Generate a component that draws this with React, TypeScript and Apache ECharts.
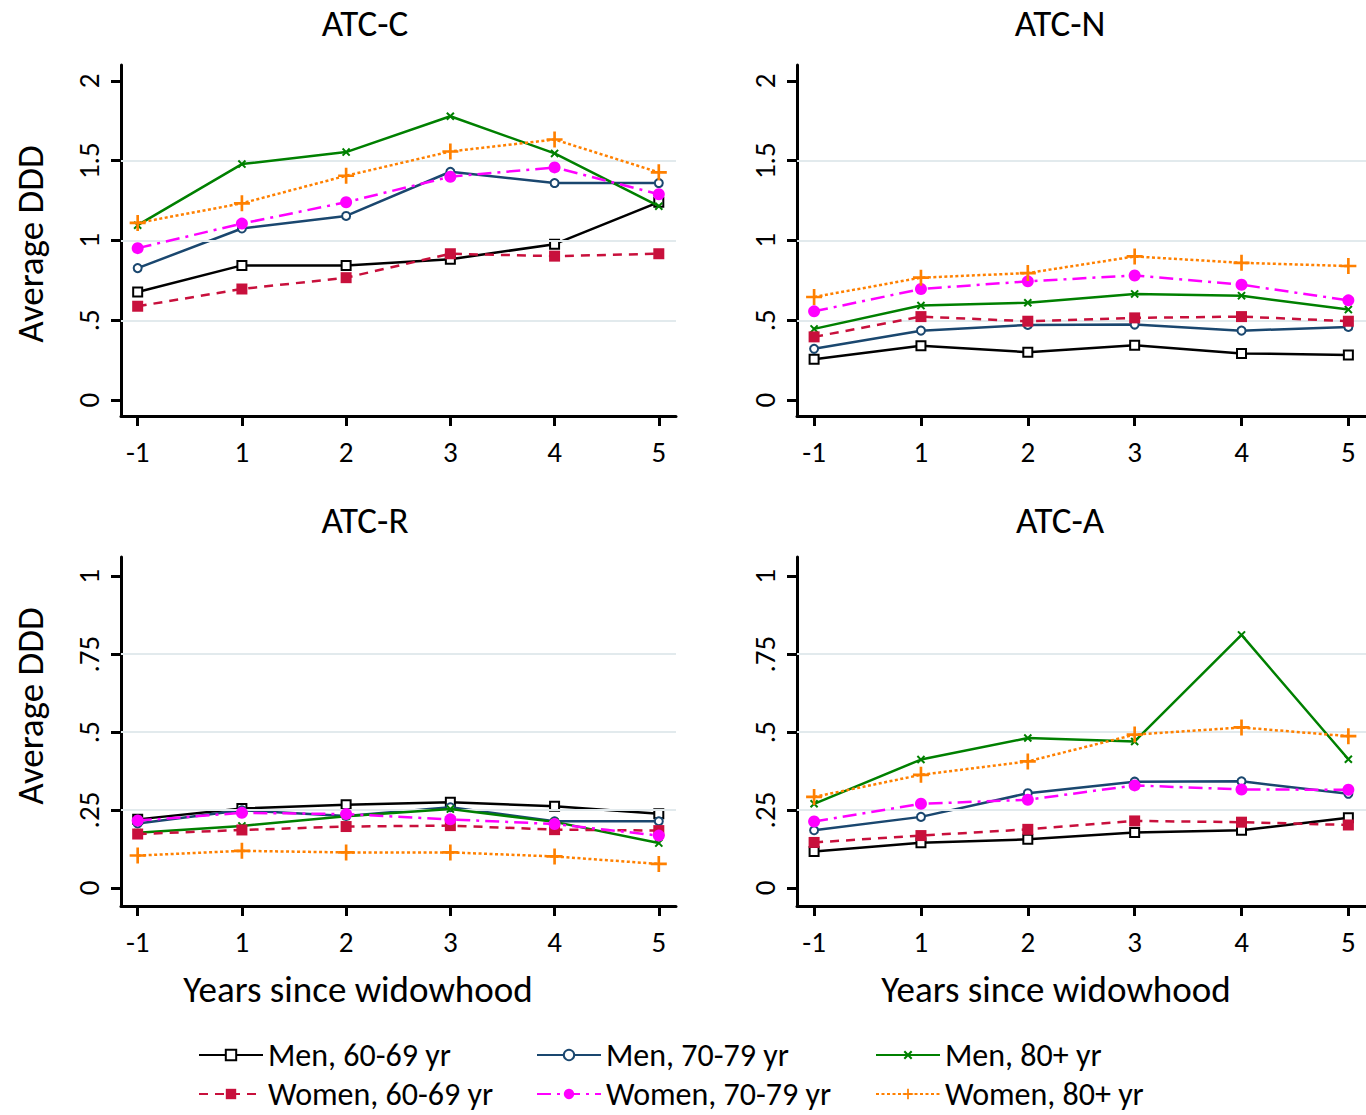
import React, { useEffect, useRef } from 'react';
import * as echarts from 'echarts';

const categories = ['-1', '1', '2', '3', '4', '5'];
const seriesNames = ['Men, 60-69 yr', 'Men, 70-79 yr', 'Men, 80+ yr', 'Women, 60-69 yr', 'Women, 70-79 yr', 'Women, 80+ yr'];
const panelTitles = ['ATC-C', 'ATC-N', 'ATC-R', 'ATC-A'];
const yTicksTop = [0, 0.5, 1, 1.5, 2];
const yTicksBottom = [0, 0.25, 0.5, 0.75, 1];
const gridTop = [0.5, 1, 1.5];
const gridBottom = [0.25, 0.5, 0.75];
const xTitle = 'Years since widowhood';
const yTitle = 'Average DDD';

// ATC-C
const atcCMen6069 = [0.677, 0.844, 0.844, 0.883, 0.977, 1.24];
const atcCMen7079 = [0.827, 1.075, 1.154, 1.431, 1.36, 1.36];
const atcCMen80 = [1.096, 1.479, 1.554, 1.779, 1.546, 1.215];
const atcCWomen6069 = [0.588, 0.696, 0.767, 0.917, 0.902, 0.917];
const atcCWomen7079 = [0.952, 1.106, 1.24, 1.40, 1.458, 1.29];
const atcCWomen80 = [1.11, 1.233, 1.406, 1.558, 1.633, 1.427];

// ATC-N
const atcNMen6069 = [0.256, 0.34, 0.30, 0.344, 0.292, 0.283];
const atcNMen7079 = [0.321, 0.435, 0.471, 0.473, 0.435, 0.458];
const atcNMen80 = [0.446, 0.592, 0.61, 0.665, 0.654, 0.567];
const atcNWomen6069 = [0.396, 0.523, 0.494, 0.515, 0.523, 0.494];
const atcNWomen7079 = [0.556, 0.696, 0.744, 0.781, 0.723, 0.625];
const atcNWomen80 = [0.646, 0.767, 0.796, 0.90, 0.86, 0.84];

// ATC-R
const atcRMen6069 = [0.22, 0.255, 0.267, 0.275, 0.262, 0.238];
const atcRMen7079 = [0.207, 0.249, 0.231, 0.259, 0.214, 0.214];
const atcRMen80 = [0.177, 0.199, 0.23, 0.253, 0.212, 0.144];
const atcRWomen6069 = [0.173, 0.186, 0.197, 0.2, 0.187, 0.184];
const atcRWomen7079 = [0.216, 0.241, 0.237, 0.22, 0.205, 0.168];
const atcRWomen80 = [0.104, 0.119, 0.114, 0.114, 0.101, 0.077];

// ATC-A
const atcAMen6069 = [0.117, 0.145, 0.156, 0.178, 0.185, 0.225];
const atcAMen7079 = [0.185, 0.228, 0.304, 0.341, 0.342, 0.302];
const atcAMen80 = [0.27, 0.412, 0.481, 0.47, 0.812, 0.413];
const atcAWomen6069 = [0.146, 0.168, 0.188, 0.215, 0.211, 0.202];
const atcAWomen7079 = [0.213, 0.27, 0.283, 0.329, 0.316, 0.315];
const atcAWomen80 = [0.292, 0.363, 0.406, 0.492, 0.515, 0.487];

const panelData = [
  [atcCMen6069, atcCMen7079, atcCMen80, atcCWomen6069, atcCWomen7079, atcCWomen80],
  [atcNMen6069, atcNMen7079, atcNMen80, atcNWomen6069, atcNWomen7079, atcNWomen80],
  [atcRMen6069, atcRMen7079, atcRMen80, atcRWomen6069, atcRWomen7079, atcRWomen80],
  [atcAMen6069, atcAMen7079, atcAMen80, atcAWomen6069, atcAWomen7079, atcAWomen80],
];

const FONT = 'Carlito, Lato, sans-serif';
const CROSS = 'path://M5,0h2v5h5v2h-5v5h-2v-5h-5v-2h5z';
const XMARK = 'path://M4,0h2v4h4v2h-4v4h-2v-4h-4v-2h4z';

const seriesStyles = [
  { color: '#000000', type: 'solid', symbol: 'emptyRect', size: 9, rotate: 0 },
  { color: '#1a476f', type: 'solid', symbol: 'emptyCircle', size: 8, rotate: 0 },
  { color: '#008000', type: 'solid', symbol: XMARK, size: 10, rotate: 45 },
  { color: '#c8103c', type: [9, 7], symbol: 'rect', size: 11, rotate: 0 },
  { color: '#ff00ff', type: [14, 6, 3, 6], symbol: 'circle', size: 12, rotate: 0 },
  { color: '#ff8000', type: [3, 2.5], symbol: CROSS, size: 16, rotate: 0 },
];

const layout = [
  { left: 121, top: 65, width: 555, height: 351, titleX: 365, titleY: 23, yMin: -0.1, yMax: 2.1, top2: true },
  { left: 797, top: 65, width: 578, height: 351, titleX: 1060, titleY: 23, yMin: -0.1, yMax: 2.1, top2: true },
  { left: 121, top: 557, width: 555, height: 349, titleX: 365, titleY: 520, yMin: -0.058, yMax: 1.062, top2: false },
  { left: 797, top: 557, width: 578, height: 349, titleX: 1060, titleY: 520, yMin: -0.058, yMax: 1.062, top2: false },
];

const legendPos = [
  [198, 1057], [536, 1057], [875, 1057],
  [198, 1096], [536, 1096], [875, 1096],
];

function fmtY(v: number) {
  const s = String(v);
  return s.startsWith('0.') ? s.slice(1) : s;
}

function buildOption() {
  const grid: any[] = [];
  const xAxis: any[] = [];
  const yAxis: any[] = [];
  const series: any[] = [];
  const graphic: any[] = [];
  const xIdx = categories.map((_, i) => i);

  layout.forEach((L, p) => {
    grid.push({ left: L.left, top: L.top, width: L.width, height: L.height, containLabel: false });
    xAxis.push({
      type: 'value', gridIndex: p, min: -0.16, max: 5.165,
      axisLine: { show: true, onZero: false, lineStyle: { color: '#000', width: 3 } },
      axisTick: { show: true, length: 10, lineStyle: { color: '#000', width: 3 }, customValues: xIdx },
      axisLabel: {
        customValues: xIdx, formatter: (v: number) => categories[Math.round(v)] ?? '',
        fontSize: 29, color: '#000', margin: 21, fontFamily: FONT,
      },
      splitLine: { show: false },
    });
    const ticks = L.top2 ? yTicksTop : yTicksBottom;
    yAxis.push({
      type: 'value', gridIndex: p, min: L.yMin, max: L.yMax,
      axisLine: { show: true, onZero: false, lineStyle: { color: '#000', width: 3 } },
      axisTick: { show: true, length: 10, lineStyle: { color: '#000', width: 3 }, customValues: ticks },
      axisLabel: {
        customValues: ticks, formatter: (v: number) => fmtY(v), rotate: 90,
        fontSize: 29, color: '#000', margin: 18, fontFamily: FONT,
      },
      splitLine: { show: false },
    });
    series.push({
      type: 'line', xAxisIndex: p, yAxisIndex: p, data: [], z: 1, silent: true,
      markLine: {
        silent: true, symbol: ['none', 'none'], label: { show: false },
        lineStyle: { color: '#e2eaed', width: 2, type: 'solid' },
        data: (L.top2 ? gridTop : gridBottom).map((v) => ({ yAxis: v })),
      },
    });
    panelData[p].forEach((vals, s) => {
      const st = seriesStyles[s];
      series.push({
        type: 'line', name: seriesNames[s], xAxisIndex: p, yAxisIndex: p, z: 3 + s,
        data: vals.map((v, i) => [i, v]),
        symbol: st.symbol, symbolSize: st.size, symbolRotate: st.rotate, showAllSymbol: true,
        lineStyle: { color: st.color, width: 2.5, type: st.type },
        itemStyle: { color: st.color, borderColor: st.color, borderWidth: st.symbol.startsWith('empty') ? 2 : 0 },
        emphasis: { disabled: true },
      });
    });
    graphic.push({
      type: 'text', x: L.titleX, y: L.titleY,
      style: { text: panelTitles[p], fontSize: 37, fontFamily: FONT, fill: '#000', textAlign: 'center', textVerticalAlign: 'middle' },
    });
  });

  graphic.push(
    { type: 'text', x: 30, y: 244, rotation: Math.PI / 2, style: { text: yTitle, fontSize: 37, fontFamily: FONT, fill: '#000', textAlign: 'center', textVerticalAlign: 'middle' } },
    { type: 'text', x: 30, y: 706, rotation: Math.PI / 2, style: { text: yTitle, fontSize: 37, fontFamily: FONT, fill: '#000', textAlign: 'center', textVerticalAlign: 'middle' } },
    { type: 'text', x: 358, y: 989, style: { text: xTitle, fontSize: 37, fontFamily: FONT, fill: '#000', textAlign: 'center', textVerticalAlign: 'middle' } },
    { type: 'text', x: 1056, y: 989, style: { text: xTitle, fontSize: 37, fontFamily: FONT, fill: '#000', textAlign: 'center', textVerticalAlign: 'middle' } },
  );

  const legend = seriesNames.map((name, s) => ({
    data: [name], left: legendPos[s][0], top: legendPos[s][1] - 18, orient: 'horizontal',
    itemWidth: 64, itemHeight: 13, padding: 0, selectedMode: false,
    textStyle: { fontSize: 32, fontFamily: FONT, color: '#000' },
  }));

  return { animation: false, backgroundColor: '#ffffff', grid, xAxis, yAxis, series, graphic, legend };
}

export default function App() {
  const ref = useRef<HTMLDivElement>(null);
  useEffect(() => {
    if (!ref.current) return;
    const chart = echarts.init(ref.current, undefined, { renderer: 'svg' });
    chart.setOption(buildOption() as any);
    return () => chart.dispose();
  }, []);
  return <div ref={ref} style={{ position: 'absolute', left: 0, top: 0, width: 1366, height: 1115 }} />;
}
